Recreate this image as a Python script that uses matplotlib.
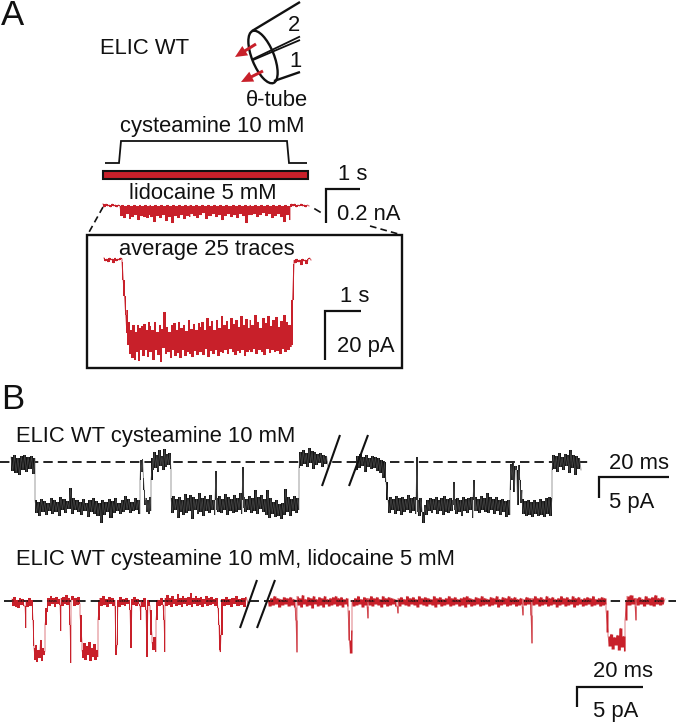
import numpy as np
import matplotlib
matplotlib.use("Agg")
import matplotlib.pyplot as plt
from matplotlib.patches import Ellipse, Rectangle, FancyArrow

plt.rcParams['font.family'] = ['Liberation Sans', 'DejaVu Sans']

RED = '#c8202a'
BLK = '#111111'

small_trace = [
 (103, 120, [204,207,204,206,205,207,204,206,205,207,205,206]),
 (120, 150, [206,216,205,218,206,214,205,219,206,217,205,215,206,220,205,216,206,217,205,218,206,215]),
 (150, 190, [205,217,206,222,205,216,206,218,205,215,206,221,205,217,206,223,205,216,206,218,205,215,206,219,205,216,206,217]),
 (190, 250, [205,214,206,216,205,218,206,215,205,213,206,219,205,216,206,214,205,217,206,215,205,220,206,216,205,214,206,217,205,215,206,218,205,214,206,216,205,223,206,215]),
 (250, 290, [205,215,206,214,205,217,206,215,205,213,206,216,205,214,206,218,205,216,206,214,205,217,206,222,205,215,206,220]),
 (290, 309, [207,204,206,204,207,205,206,204,206,205,207,205,206]),
]
avg_trace = [
 (104, 122, [258,261,259,262,258,260,259,263,258,261,259,260,258,259]),
 (122, 127, [262,280,296,315,333]),
 (127, 150, [310,345,322,354,330,358,325,360,332,352,325,361,328,350,326,356,324,350,330,357,322,352]),
 (150, 200, [326,352,330,360,322,350,332,355,325,362,329,348,312,354,327,352,332,358,325,350,323,356,330,353,322,358,328,350,325,356,331,352,320,354,329,357,324,351,330,355,323,352]),
 (200, 250, [327,352,322,355,330,349,318,357,326,351,321,354,330,350,320,356,328,352,316,353,325,350,321,354,329,349,318,352,324,355,320,351,327,353,316,350,325,356,319,352,328,350]),
 (250, 291, [320,352,325,349,315,354,322,350,328,352,318,355,323,349,316,353,326,350,320,352,317,351,327,354,321,349,315,352,322,350,325,347]),
 (291, 294, [345,300,264]),
 (294, 311, [260,263,259,262,260,265,259,261,260,264,259,258,260]),
]
top_trace_left = [
 (11, 35, [457,471,455,473,458,475,456,470,455,472,457,469,456,474,458]),
 (35, 140, [500,513,502,516,499,512,501,515,503,511,498,514,500,512,502,516,497,510,499,513,501,509,488,514,498,510,500,512,502,515,499,511,503,517,500,512,498,514,501,516,503,523,500,515,502,512,499,518,501,513,498,511,503,514,500,512,496,510,499,513,502,511,498,510,500,514]),
 (140, 146, [480,460,472,459,478,490,505,500]),
 (146, 151, [498,512,500,514,497,511]),
 (151, 153, [480,458]),
 (153, 171, [470,452,468,455,472,450,466,456,470,449,467,454,465,453,469]),
 (171, 215, [498,513,496,510,499,518,497,512,500,515,494,513,498,511,495,519,497,510,499,514,493,512,498,516,496,511,499,513,495,510,500,515]),
 (215, 217, [500,471,510]),
 (217, 242, [498,512,496,513,499,510,494,515,497,511,499,513,495,512,498,510,493,514]),
 (242, 244, [500,467,508]),
 (244, 299, [497,512,499,510,496,513,498,511,490,514,497,509,495,512,499,515,490,518,498,514,502,517,500,516,504,519,503,515,489,512,497,516,499,511,496,513,498,510]),
 (299, 328, [468,452,466,450,464,453,467,448,463,451,469,452,465,454,462,453,467,455,464,456,466]),
]
top_trace_right = [
 (356, 386, [470,456,468,454,466,457,472,455,467,458,469,456,468,457,471,458,473,460,478,462,482]),
 (388, 416, [500,513,497,510,499,514,496,511,498,515,497,512,499,510,495,513,498,511,497,514]),
 (416, 418, [500,457,512]),
 (418, 453, [500,516,498,512,523,505,515,500,511,498,513,499,510,497,514,500,511,498,515,496,512,499,513,498,511,500]),
 (453, 455, [505,482,510]),
 (455, 473, [499,514,498,512,500,516,497,511,499,513,498,510,497,518]),
 (473, 475, [500,480,511]),
 (475, 510, [497,511,499,513,496,510,498,512,493,513,497,510,499,514,497,511,500,515,499,512,501,517,500,515]),
 (510, 522, [490,464,480,463,492,466,470,505,465,480,503,490]),
 (522, 552, [499,514,501,516,500,515,502,517,500,514,502,516,499,515,501,517,498,514,497,516,498]),
 (552, 581, [470,455,469,456,472,453,467,457,470,454,466,455,473,450,468,455,475,456,469,458,470]),
]
red_trace_left = [
 (12, 24, [599,606,597,607,600,608,598,605,599,606]),
 (25, 26, [606,628]), (26, 32, [600,607,598,606,600]),
 (33, 34, [620,646]),
 (34, 45, [648,660,645,662,650,658,640,661,648,655,651]),
 (45, 47, [625,608]),
 (47, 59, [612,598,606,596,604,598,607,597,604,599]),
 (60, 61, [605,631]), (61, 69, [598,606,597,604,595,605,598]),
 (70, 71, [625,663]), (71, 80, [600,596,606,598,605,597,604]),
 (80, 82, [615,642]),
 (82, 98, [650,658,643,660,646,655,642,661,648,657,644,660,650,657]),
 (98, 100, [620,600]),
 (100, 115, [598,606,596,605,599,607,597,604,598,606,600]),
 (115, 117, [606,655,645]), (118, 129, [600,607,597,605,599,606,598,604,600]),
 (130, 131, [610,648]), (132, 139, [599,605,597,606,599,604]),
 (140, 141, [606,620]), (141, 145, [600,607,598]),
 (146, 147, [610,657]), (148, 150, [600,606]),
 (150, 152, [610,635]), (152, 156, [642,650,637,652]),
 (156, 163, [620,600,606,598,605]),
 (164, 165, [620,652]),
 (165, 218, [598,606,595,605,598,607,596,604,599,606,594,605,598,607,596,604,598,606,597,605,593,607,598,604,596,606,598,605,597,607,599,604,596,606,598,605,597,604,599,606,598,608]),
 (219, 221, [625,650,652,635]),
 (223, 248, [599,606,597,605,599,607,598,604,596,606,599,605,598,607,597,604]),
]
red_trace_right = [
 (268, 295, [600,606,598,605,596,604,598,607,599,605,597,604,598,606,597,605,599,607]),
 (296, 297, [620,652]),
 (297, 348, [596,605,598,607,595,604,599,606,597,605,598,608,596,604,599,606,597,605,598,607,596,604,599,606,598,605,597,604,596,606,598,605,597,607,599,604,598,606]),
 (348, 352, [610,640,653,630]),
 (352, 367, [600,606,598,605,596,604,599,607,597,605,598]),
 (367, 368, [606,618]),
 (368, 396, [598,605,596,606,598,604,597,605,599,607,596,604,598,606,597,605,598,604,599,606]),
 (397, 398, [606,613]),
 (398, 522, [598,606,597,604,599,605,596,606,598,604,597,605,599,607,596,604,598,605,597,606,598,604,599,605,596,607,598,604,597,606,599,605,598,604,596,606,598,605,597,604,599,606,598,605,597,607,596,604,598,606,599,605,597,604,598,606,596,605,598,604,599,606,597,605,598,604,596,607,599,605,597,604,598,606,596,605,598,604,597,606,599,605,598,604]),
 (522, 523, [606,615]),
 (523, 530, [599,605,597,604,598]),
 (531, 532, [615,643]),
 (532, 606, [598,605,596,604,598,606,597,605,599,604,596,606,598,605,597,604,599,607,598,605,596,604,598,606,597,605,599,604,596,607,598,605,597,604,599,606,598,605,597,604,598,606,596,605,599,604,598,606,597,605,598,604]),
 (606, 608, [610,632]),
 (608, 625, [636,646,634,649,637,645,635,650,628,647,636,651]),
 (625, 627, [620,600]),
 (627, 635, [596,605,595,604,598]),
 (635, 636, [606,620]),
 (636, 665, [598,605,597,604,599,606,596,604,598,605,597,606,595,604,598,605,597,604,599]),
]

top_baseline = ([0, 588], [462, 462])
red_baseline = ([4, 676], [601, 601])
stimulus_x = [105, 119, 121, 287, 289, 307]
stimulus_y = [163, 163, 141, 141, 163, 163]


def polyline(segments):
    xs, ys = [], []
    for x0, x1, vals in segments:
        xs.append(np.linspace(x0, x1, len(vals)))
        ys.append(np.array(vals, dtype=float))
    return np.concatenate(xs), np.concatenate(ys)


fig = plt.figure(figsize=(6.76, 7.23), dpi=100)
ax = fig.add_axes([0, 0, 1, 1])
ax.set_xlim(0, 676)
ax.set_ylim(723, 0)
ax.axis('off')


def line(x, y, lw=1.5, c=BLK, **kw):
    ax.plot(x, y, color=c, lw=lw, solid_capstyle='butt', solid_joinstyle='miter', **kw)


def label(x, y, s, size=15.8, **kw):
    ax.text(x, y, s, fontsize=size, color=BLK, va='baseline', ha=kw.pop('ha', 'left'), **kw)


def noisy(segments, color, lw=0.6, halo=None):
    """Solid jagged band spanning each successive pair of samples, as dense noise looks."""
    x, y = polyline(segments)
    lo = np.minimum(y[:-1], y[1:])
    hi = np.maximum(y[:-1], y[1:])
    ax.plot(x, y, color=halo or color, lw=lw, alpha=0.7, solid_joinstyle='miter')
    ax.fill_between(x[:-1], lo, hi, step='post', color=color, lw=0)


# panel letters
label(1, 25, 'A', size=25)
label(1, 409, 'B', size=25)

# panel A labels
label(100, 54, 'ELIC WT')
label(246, 106, 'θ-tube')
label(120, 132, 'cysteamine 10 mM')
label(129, 199, 'lidocaine 5 mM')
label(338, 180, '1 s')
label(337, 220, '0.2 nA')
label(119, 255, 'average 25 traces')
label(340, 302, '1 s')
label(337, 352, '20 pA')
label(288, 31, '2')
label(289, 67, '1')

# theta tube
ax.add_patch(Ellipse((263, 57), 22, 56, angle=-22, fill=False, ec=BLK, lw=1.7))
line([252, 300], [31, 2], lw=1.7)
line([274, 300], [81, 72], lw=1.7)
line([253, 300], [59, 36.5], lw=1.3)
line([253, 300], [60, 40], lw=1.3)
ax.add_patch(FancyArrow(256, 44, -21, 13, width=3, head_width=11, head_length=12,
                        length_includes_head=True, color=RED, lw=0))
ax.add_patch(FancyArrow(263, 71, -22, 11, width=3, head_width=11, head_length=12,
                        length_includes_head=True, color=RED, lw=0))

# stimulus & bar
line(stimulus_x, stimulus_y, lw=1.3)
ax.add_patch(Rectangle((103, 171), 205, 8, fc=RED, ec=BLK, lw=1.5))

# panel A traces
noisy(small_trace, RED, lw=0.8)
ax.add_patch(Rectangle((87, 235), 315, 133, fill=False, ec=BLK, lw=1.7))
noisy(avg_trace, RED, lw=0.8)

# zoom dashes
dash = (0, (4, 2.5))
ax.plot([103, 88], [207, 234], color=BLK, lw=1.2, ls=dash)
ax.plot([315, 320], [209, 212], color=BLK, lw=1.2)
ax.plot([370, 402], [226, 235], color=BLK, lw=1.2, ls=dash)

# scale bars
line([360, 326, 326], [189, 189, 223], lw=1.6)
line([361, 325, 325], [311, 311, 360], lw=1.6)
line([669, 599, 599], [477, 477, 498], lw=1.6)
line([643, 577, 577], [687, 687, 707], lw=1.6)

# panel B
label(16, 442, 'ELIC WT cysteamine 10 mM')
label(16, 565, 'ELIC WT cysteamine 10 mM, lidocaine 5 mM')
label(609, 469, '20 ms')
label(609, 508, '5 pA')
label(593, 677, '20 ms')
label(593, 717, '5 pA')

bdash = (0, (5.2, 2.8))
ax.plot(*top_baseline, color=BLK, lw=1.3, ls=bdash)
ax.plot(*red_baseline, color=BLK, lw=1.3, ls=bdash)

noisy(top_trace_left, '#141414', halo='#555555')
noisy(top_trace_right, '#141414', halo='#555555')
noisy(red_trace_left, RED)
noisy(red_trace_right, RED)

# break marks
line([322, 340], [486, 435], lw=1.5)
line([349, 368], [486, 435], lw=1.5)
line([240, 257], [628, 580], lw=1.5)
line([257, 275], [628, 580], lw=1.5)

fig.savefig('out.png', dpi=100)
